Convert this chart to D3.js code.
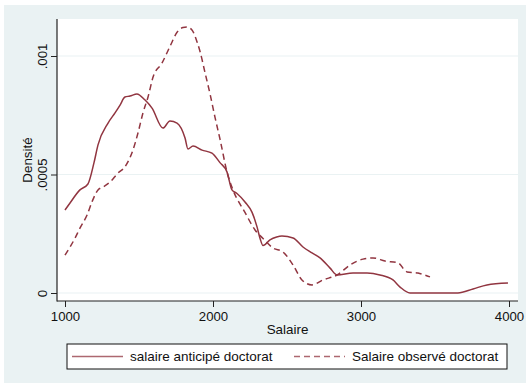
<!DOCTYPE html>
<html lang="fr">
<head>
<meta charset="UTF-8" />
<script src="https://d3js.org/d3.v7.min.js"></script>
<title>Densité</title>
<style>
  body { margin: 0; background: #fff; }
  text { font-family: "Liberation Sans", Arial, sans-serif; fill: #111; }
</style>
</head>
<body>
<script>
// kernel density, salaire anticipé doctorat (solid)
var anticipe = [
  [1000, .00035], [1034, .00038], [1101, .000435], [1155, .00046], [1196, .00055],
  [1223, .000625], [1291, .000717], [1338, .00076], [1372, .000793], [1405, .000827],
  [1439, .000831], [1486, .00084], [1541, .000814], [1588, .00078], [1662, .000696],
  [1709, .000726], [1757, .000717], [1811, .000654], [1831, .000608], [1865, .00062],
  [1926, .000603], [1993, .00059], [2047, .00055], [2095, .00051], [2128, .000435],
  [2162, .00042], [2216, .000384], [2264, .00034], [2297, .00028], [2318, .00023],
  [2338, .0002], [2385, .000224], [2430, .000236], [2466, .00024], [2541, .000232],
  [2608, .000194], [2669, .000169], [2723, .000148], [2791, .000105], [2838, .000076],
  [2946, .000084], [3041, .000084], [3128, .000076], [3216, .000055], [3264, .000025],
  [3331, 0], [3655, 0], [3757, .000017], [3851, .000034], [3993, .000042]
];
// kernel density, salaire observé doctorat (dashed)
var observe = [
  [1000, .00016], [1068, .000232], [1101, .000274], [1149, .000329], [1182, .000384],
  [1223, .000435], [1257, .000447], [1304, .000468], [1358, .000506], [1405, .000532],
  [1459, .000603], [1493, .000675], [1527, .00076], [1561, .000827], [1595, .000911],
  [1655, .00097], [1709, .00104], [1757, .0011], [1797, .00112], [1824, .001122],
  [1858, .00111], [1892, .00106], [1912, .00102], [1946, .00093], [1980, .00084],
  [2014, .00074], [2047, .00065], [2095, .00051], [2135, .000435], [2216, .00034],
  [2284, .000266], [2338, .00023], [2405, .00019], [2473, .000173], [2541, .000118],
  [2601, .000055], [2669, .000034], [2743, .000055], [2838, .000076], [2926, .000118],
  [3014, .000143], [3081, .000148], [3162, .000135], [3250, .000127], [3311, .000089],
  [3385, .000084], [3466, .000068]
];
var xTicks = [1000, 2000, 3000, 4000];
var yTicks = [0, .0005, .001];
var yTickLabels = ["0", ".0005", ".001"];
var legendLabels = ["salaire anticipé doctorat", "Salaire observé doctorat"];

var width = 526, height = 385;
var red = "#913540";
var bg = "#eaf2f3";
var plot = { left: 57, right: 518, top: 19, bottom: 301 };

var svg = d3.select("body").append("svg").attr("width", width).attr("height", height);

svg.append("rect").attr("x", 4).attr("y", 5).attr("width", width - 4).attr("height", 378).attr("fill", bg);
svg.append("rect").attr("x", plot.left).attr("y", plot.top)
  .attr("width", plot.right - plot.left).attr("height", plot.bottom - plot.top).attr("fill", "#fff");

var x = d3.scaleLinear().domain([1000, 4000]).range([65, 509]);
var y = d3.scaleLinear().domain([0, .001]).range([293, 56]);

// grid
svg.append("g").selectAll("line").data(yTicks).enter().append("line")
  .attr("x1", plot.left).attr("x2", plot.right)
  .attr("y1", function(d){ return y(d); }).attr("y2", function(d){ return y(d); })
  .attr("stroke", bg).attr("stroke-width", 1.2);

// axes
var xa = svg.append("g").attr("transform", "translate(0," + plot.bottom + ")")
  .call(d3.axisBottom(x).tickValues(xTicks).tickFormat(d3.format("d")).tickSize(6).tickPadding(5));
xa.select(".domain").remove();
xa.selectAll("text").attr("font-size", 13.2).attr("font-family", "Liberation Sans, Arial, sans-serif").attr("fill", "#111");

var ya = svg.append("g").attr("transform", "translate(" + plot.left + ",0)")
  .call(d3.axisLeft(y).tickValues(yTicks).tickFormat(function(d, i){ return yTickLabels[i]; }).tickSize(6).tickPadding(0));
ya.select(".domain").remove();
ya.selectAll("text")
  .attr("font-size", 13.2).attr("font-family", "Liberation Sans, Arial, sans-serif").attr("fill", "#111")
  .attr("text-anchor", "middle").attr("dy", 0).attr("x", 0)
  .attr("transform", "translate(-10,0) rotate(-90)");
svg.selectAll(".tick line").attr("stroke", "#222");

svg.append("line").attr("x1", plot.left).attr("x2", plot.left).attr("y1", plot.top).attr("y2", plot.bottom + 0.5)
  .attr("stroke", "#222").attr("stroke-width", 1.2);
svg.append("line").attr("x1", plot.left).attr("x2", plot.right).attr("y1", plot.bottom).attr("y2", plot.bottom)
  .attr("stroke", "#222").attr("stroke-width", 1.2);

svg.append("text").attr("x", (plot.left + plot.right) / 2).attr("y", 334)
  .attr("text-anchor", "middle").attr("font-size", 13.4).text("Salaire");
svg.append("text").attr("transform", "translate(32," + ((plot.top + plot.bottom) / 2) + ") rotate(-90)")
  .attr("text-anchor", "middle").attr("font-size", 13.4).text("Densité");

// curves
var line = d3.line().x(function(d){ return x(d[0]); }).y(function(d){ return y(d[1]); }).curve(d3.curveMonotoneX);
svg.append("path").datum(anticipe).attr("d", line).attr("fill", "none").attr("stroke", red).attr("stroke-width", 1.5);
svg.append("path").datum(observe).attr("d", line).attr("fill", "none").attr("stroke", red).attr("stroke-width", 1.5)
  .attr("stroke-dasharray", "6,4");

// legend
var lg = svg.append("g");
lg.append("rect").attr("x", 67).attr("y", 344).attr("width", 440).attr("height", 25)
  .attr("fill", "#fff").attr("stroke", "#111").attr("stroke-width", 1);
var items = [{ x: 72, dash: null }, { x: 294, dash: "6,4" }];
items.forEach(function(it, i) {
  lg.append("line").attr("x1", it.x).attr("x2", it.x + 51).attr("y1", 356.5).attr("y2", 356.5)
    .attr("stroke", red).attr("stroke-width", 1.5).attr("stroke-opacity", 0.75)
    .attr("stroke-dasharray", it.dash);
  lg.append("text").attr("x", it.x + 58).attr("y", 361).attr("font-size", 13.5).text(legendLabels[i]);
});
</script>
</body>
</html>
